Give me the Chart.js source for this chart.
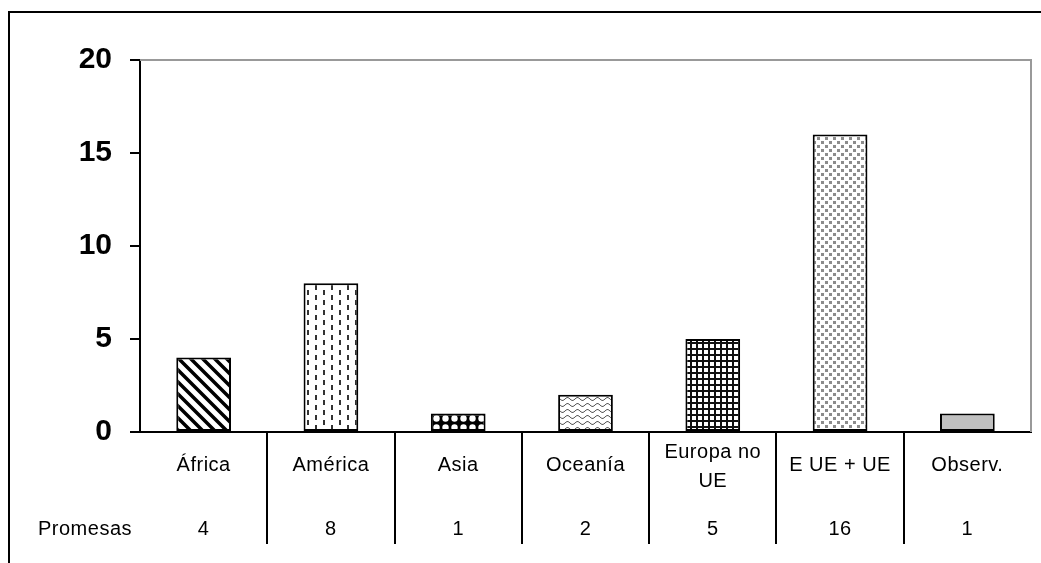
<!DOCTYPE html>
<html>
<head>
<meta charset="utf-8">
<script src="https://cdn.jsdelivr.net/npm/chart.js@4"></script>
<style>
  body { margin: 0; background: #fff; }
</style>
</head>
<body>
<canvas id="promesasChart" width="1041" height="563"></canvas>
<script>
// Regions and number of pledges per region
const categories = ['África', 'América', 'Asia', 'Oceanía', ['Europa no', 'UE'], 'E UE + UE', 'Observ.'];
const promesas = [4, 8, 1, 2, 5, 16, 1];
const rowLabel = 'Promesas';
const yMin = 0;
const yMax = 20;
const yStep = 5;

const FONT = "'Liberation Sans', Arial, sans-serif";

const canvas = document.getElementById('promesasChart');
const ctx = canvas.getContext('2d');

// Build a repeating fill from a small tile
const makePattern = (w, h, draw) => {
    const tile = document.createElement('canvas');
    tile.width = w;
    tile.height = h;
    const g = tile.getContext('2d');
    g.fillStyle = '#fff';
    g.fillRect(0, 0, w, h);
    draw(g);
    return ctx.createPattern(tile, 'repeat');
};

// Diagonal stripes
const stripes = makePattern(12, 12, g => {
    g.strokeStyle = '#000';
    g.lineWidth = 3.5;
    g.beginPath();
    g.moveTo(-3, -3); g.lineTo(15, 15);
    g.moveTo(-9, 3); g.lineTo(3, 15);
    g.moveTo(9, -3); g.lineTo(15, 3);
    g.stroke();
});

// Staggered vertical dashes
const dashes = makePattern(16, 10, g => {
    g.fillStyle = '#333';
    g.fillRect(3, 0, 2, 5);
    g.fillRect(11, 5, 2, 5);
});

// Black with white circles
const circles = makePattern(9, 9, g => {
    g.fillStyle = '#000';
    g.fillRect(0, 0, 9, 9);
    g.fillStyle = '#fff';
    g.beginPath();
    g.arc(4.5, 4.5, 3.2, 0, Math.PI * 2);
    g.fill();
});

// Wavy lines
const waves = makePattern(10, 6, g => {
    g.strokeStyle = '#555';
    g.lineWidth = 1;
    g.beginPath();
    for (let x = 0; x <= 10; x++) {
        const y = 3 + 1.5 * Math.sin(x / 10 * Math.PI * 2);
        if (x === 0) g.moveTo(x, y); else g.lineTo(x, y);
    }
    g.stroke();
});

// Square grid
const grid = makePattern(6, 6, g => {
    g.fillStyle = '#111';
    g.fillRect(0, 0, 2, 6);
    g.fillRect(0, 0, 6, 2);
});

// Scattered grey dots
const dots = makePattern(8, 8, g => {
    g.fillStyle = '#8c8c8c';
    g.fillRect(1, 1, 3, 3);
    g.fillRect(5, 5, 3, 3);
});

const fills = [stripes, dashes, circles, waves, grid, dots, '#c0c0c0'];

// Outer frame and the grey top/right edge of the plot
const framePlugin = {
    id: 'frame',
    beforeDraw(chart) {
        const c = chart.ctx;
        c.save();
        c.strokeStyle = '#000';
        c.lineWidth = 2;
        c.strokeRect(9, 12, 1200, 1000);
        c.restore();
    },
    beforeDatasetsDraw(chart) {
        const c = chart.ctx;
        const a = chart.chartArea;
        c.save();
        c.strokeStyle = '#999';
        c.lineWidth = 2;
        c.beginPath();
        c.moveTo(a.left, a.top);
        c.lineTo(a.right, a.top);
        c.lineTo(a.right, a.bottom);
        c.stroke();
        c.restore();
    }
};

// Data table under the x axis
const tablePlugin = {
    id: 'dataTable',
    afterDraw(chart) {
        const c = chart.ctx;
        const x = chart.scales.x;
        const a = chart.chartArea;
        c.save();
        c.fillStyle = '#000';
        c.strokeStyle = '#000';
        c.lineWidth = 2;
        c.font = '20px ' + FONT;
        c.letterSpacing = '0.5px';
        c.textBaseline = 'alphabetic';

        categories.forEach((cat, i) => {
            const cx = x.getPixelForValue(i);
            const lines = Array.isArray(cat) ? cat : [cat];
            c.textAlign = 'center';
            if (lines.length === 1) {
                c.fillText(lines[0], cx, 471);
            } else {
                c.fillText(lines[0], cx, 458);
                c.fillText(lines[1], cx, 487);
            }
            c.fillText(String(promesas[i]), cx, 535);

            if (i > 0) {
                const dx = Math.round((x.getPixelForValue(i - 1) + cx) / 2);
                c.beginPath();
                c.moveTo(dx, a.bottom);
                c.lineTo(dx, a.bottom + 112);
                c.stroke();
            }
        });

        c.textAlign = 'left';
        c.fillText(rowLabel, 38, 535);
        c.restore();
    }
};

new Chart(ctx, {
    type: 'bar',
    data: {
        labels: categories,
        datasets: [{
            label: rowLabel,
            data: promesas,
            backgroundColor: fills,
            borderColor: '#000',
            borderWidth: 2,
            borderSkipped: false,
            categoryPercentage: 1,
            barPercentage: 0.43
        }]
    },
    options: {
        responsive: false,
        animation: false,
        layout: {
            padding: { top: 60, right: 10, bottom: 123, left: 0 }
        },
        plugins: {
            legend: { display: false },
            tooltip: { enabled: false }
        },
        scales: {
            x: {
                grid: { display: false },
                ticks: { display: false },
                border: { display: true, color: '#000', width: 2 }
            },
            y: {
                min: yMin,
                max: yMax,
                ticks: {
                    stepSize: yStep,
                    padding: 18,
                    color: '#000',
                    font: { family: FONT, size: 30, weight: 'bold' }
                },
                grid: {
                    drawOnChartArea: false,
                    drawTicks: true,
                    tickLength: 10,
                    color: '#000',
                    lineWidth: 2
                },
                border: { display: true, color: '#000', width: 2 },
                afterFit(scale) {
                    scale.width = 140;
                }
            }
        }
    },
    plugins: [framePlugin, tablePlugin]
});
</script>
</body>
</html>
